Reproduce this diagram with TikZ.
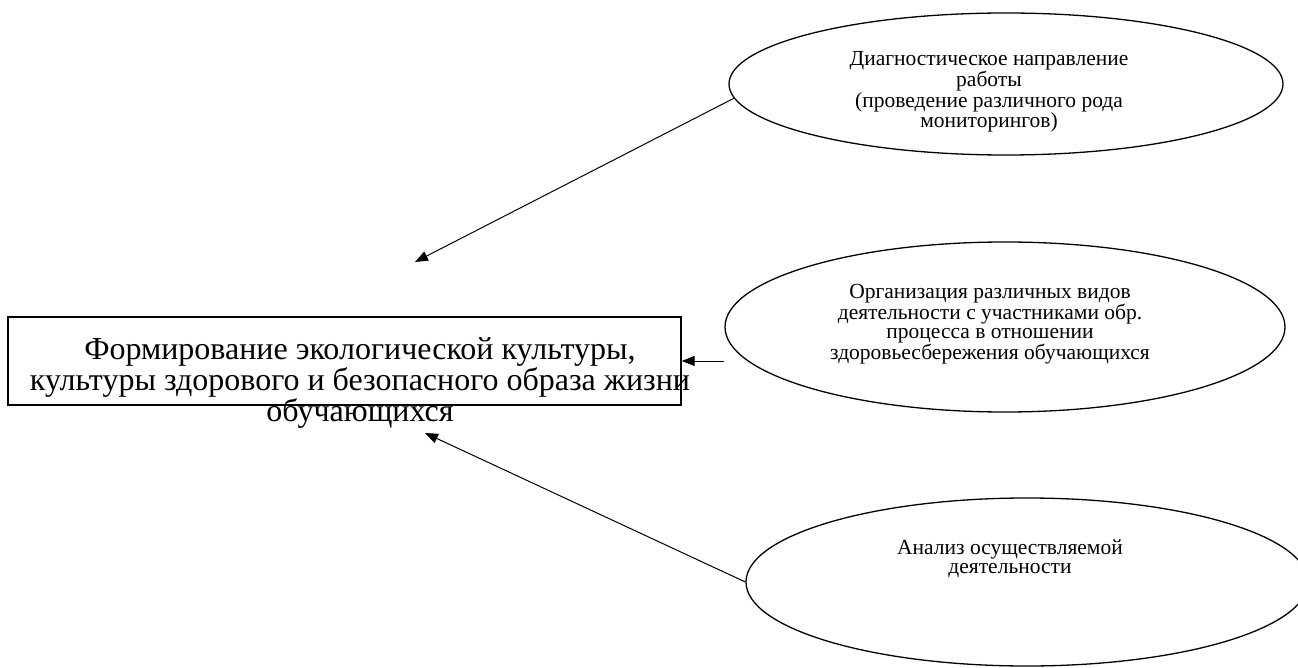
\documentclass[tikz,border=0pt]{standalone}
\usepackage{fontspec}
\setmainfont{Liberation Serif}
\usetikzlibrary{shapes.geometric,arrows.meta}

\begin{document}
\begin{tikzpicture}[x=1pt,y=1pt,yscale=-1,
	ell/.style={draw,ellipse,line width=1.3pt,inner sep=0pt},
	txt/.style={align=center,inner sep=0pt,font=\fontsize{21.5}{19}\selectfont},
	arr/.style={line width=1pt,-{Triangle[length=13pt,width=10pt]}}]
			\useasboundingbox (0,0) rectangle (1298,668);
			% ellipses
			\node [ell,minimum width=554,minimum height=142] (diag) at (1006,84) {};
			\node [ell,minimum width=560,minimum height=170] (org) at (1005,327) {};
			\node [ell,minimum width=562,minimum height=168] (anal) at (1027,582) {};
			\node [txt] (diagtext) at (989,92) {Диагностическое направление\\работы\\(проведение различного рода\\мониторингов)};
			\node [txt] (orgtext) at (990,324) {Организация различных видов\\деятельности с участниками обр.\\процесса в отношении\\здоровьесбережения обучающихся};
			\node [txt] (analtext) at (1010,559) {Анализ осуществляемой\\деятельности};
			% main box
			\node [draw,line width=1.4pt,minimum width=673,minimum height=88,inner sep=0pt] (form) at (344.5,361) {};
			\node [align=center,inner sep=0pt,font=\fontsize{32}{26}\selectfont] (formtext) at (360,383) {Формирование экологической культуры,\\культуры здорового и безопасного образа жизни\\обучающихся};
			% arrows
			\coordinate (tipa) at (415,262);
			\coordinate (tipc) at (425,433);
			\draw [arr] (diag.183.4) -- (tipa);
			\draw [arr] (org.west |- form.east) -- (form.east);
			\draw [arr] (anal.west) -- (tipc);
	\end{tikzpicture}
\end{document}
